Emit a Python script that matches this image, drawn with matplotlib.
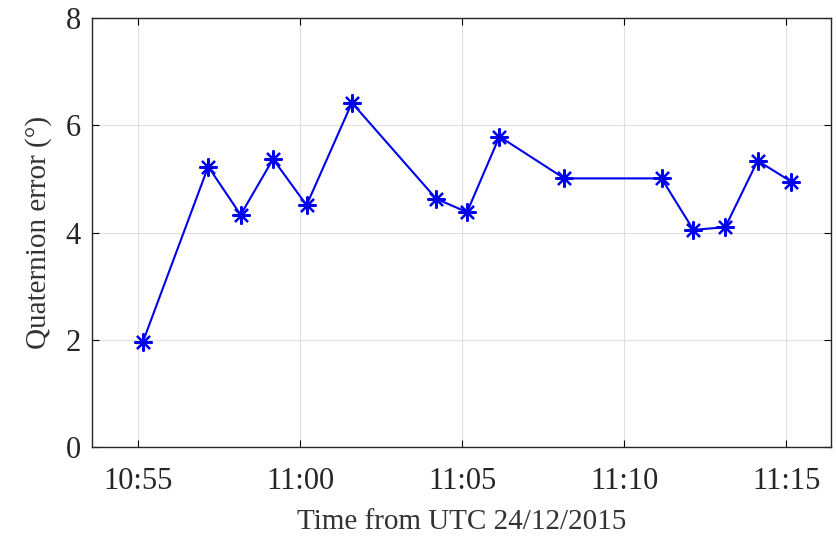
import datetime as dt
import matplotlib
matplotlib.use("Agg")
import matplotlib.pyplot as plt
import matplotlib.dates as mdates

# sample times (UTC, 24/12/2015) and quaternion error in degrees
times = ["10:55:09", "10:57:10", "10:58:10", "10:59:10", "11:00:12",
         "11:01:36", "11:04:12", "11:05:09", "11:06:09", "11:08:09",
         "11:11:09", "11:12:08", "11:13:07", "11:14:07", "11:15:09"]
errors = [1.96, 5.23, 4.33, 5.37, 4.51, 6.42, 4.63, 4.38, 5.79, 5.01,
          5.01, 4.05, 4.10, 5.34, 4.95]
tick_times = ["10:55", "11:00", "11:05", "11:10", "11:15"]
y_ticks = [0, 2, 4, 6, 8]

day = dt.date(2015, 12, 24)


def to_dt(s):
    fmt = "%H:%M:%S" if s.count(":") == 2 else "%H:%M"
    t = dt.datetime.strptime(s, fmt).time()
    return dt.datetime.combine(day, t)


x = [to_dt(t) for t in times]

plt.rcParams["font.family"] = ["Liberation Serif", "DejaVu Serif"]

fig = plt.figure(figsize=(8.37, 5.38), dpi=100)
ax = fig.add_axes([0.110, 0.169, 0.883, 0.7975])

# MATLAB-style '*' marker: 8-armed asterisk
ax.plot(x, errors, color="#0000f0", linewidth=1.5, marker=(8, 2, 0),
        markersize=13, markeredgewidth=1.6)

ax.set_xlim(to_dt("10:53:35"), to_dt("11:16:23"))
ax.set_ylim(0, 8)
ax.set_xticks([to_dt(t) for t in tick_times])
ax.xaxis.set_major_formatter(mdates.DateFormatter("%H:%M"))
ax.set_yticks(y_ticks)

ax.grid(True, color="#e0e0e0", linewidth=0.8)
ax.set_axisbelow(True)
ax.tick_params(axis="both", direction="in", top=True, right=True,
               labelsize=22, length=5, width=0.8, labelcolor="#262626")
ax.tick_params(axis="x", pad=14)
ax.tick_params(axis="y", pad=8)
for sp in ax.spines.values():
    sp.set_linewidth(1.0)
    sp.set_color("#262626")

ax.set_xlabel("Time from UTC 24/12/2015", fontsize=21, labelpad=10,
              color="#333333")
ax.set_ylabel("Quaternion error (°)", fontsize=21, labelpad=10,
              color="#333333")

fig.savefig("out.png", dpi=100)
